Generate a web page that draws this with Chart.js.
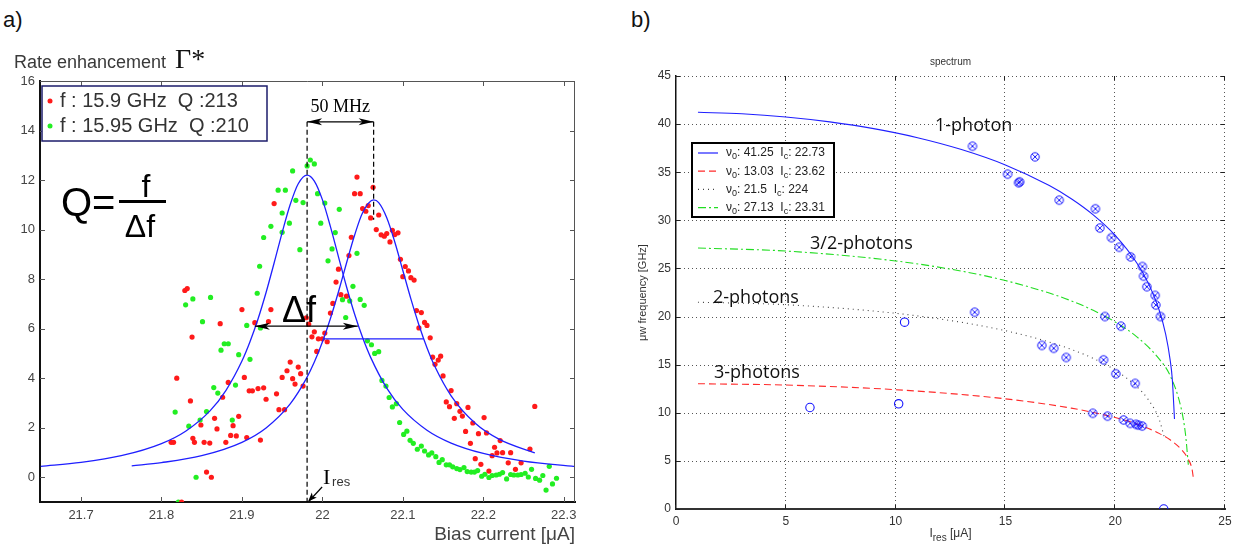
<!DOCTYPE html>
<html lang="en">
<head>
<meta charset="UTF-8">
<title>Rate enhancement and spectrum</title>
<script src="https://cdn.jsdelivr.net/npm/chart.js"></script>
<style>
    body { margin: 0; background: #fff; width: 1244px; height: 546px; overflow: hidden; position: relative; }
    #chartA { position: absolute; left: 0; top: 0; }
    #chartB { position: absolute; left: 620px; top: 0; }
    .tag { position: absolute; top: 7px; font: 22px "Liberation Sans", Arial, sans-serif; color: #111; }
</style>
</head>
<body>
<div class="tag" style="left:3px">a)</div>
<div class="tag" style="left:631px">b)</div>
<canvas id="chartA" width="600" height="546"></canvas>
<canvas id="chartB" width="624" height="546"></canvas>

<script>
// ---------- panel a : rate enhancement vs bias current ----------
const xTicksA = [21.7, 21.8, 21.9, 22.0, 22.1, 22.2, 22.3];
const yTicksA = [0, 2, 4, 6, 8, 10, 12, 14, 16];
const legendA = ['f : 15.9 GHz  Q :213', 'f : 15.95 GHz  Q :210'];

const redX = [21.812, 21.815, 21.819, 21.825, 21.829, 21.832, 21.836, 21.838, 21.839, 21.841,
              21.849, 21.853, 21.856, 21.860, 21.862, 21.866, 21.869, 21.873, 21.876, 21.880,
              21.883, 21.886, 21.889, 21.893, 21.896, 21.900, 21.903, 21.906, 21.909, 21.913,
              21.916, 21.920, 21.923, 21.927, 21.930, 21.933, 21.936, 21.940, 21.943, 21.946,
              21.950, 21.953, 21.956, 21.960, 21.963, 21.966, 21.970, 21.973, 21.976, 21.980,
              21.983, 21.987, 21.990, 21.993, 21.995, 22.000, 22.003, 22.006, 22.010, 22.013,
              22.017, 22.020, 22.023, 22.030, 22.033, 22.036, 22.040, 22.043, 22.047, 22.050,
              22.054, 22.057, 22.060, 22.063, 22.067, 22.070, 22.073, 22.077, 22.080, 22.084,
              22.087, 22.090, 22.094, 22.097, 22.100, 22.103, 22.107, 22.110, 22.114, 22.117,
              22.120, 22.123, 22.127, 22.130, 22.134, 22.137, 22.140, 22.144, 22.147, 22.150,
              22.154, 22.158, 22.160, 22.164, 22.167, 22.171, 22.174, 22.178, 22.181, 22.184,
              22.187, 22.190, 22.194, 22.197, 22.201, 22.204, 22.207, 22.211, 22.214, 22.217,
              22.221, 22.224, 22.231, 22.234, 22.240, 22.247, 22.258, 22.264];
const redY = [1.41, 1.41, 4.0, -1.0, 7.54, 7.62, 3.08, 5.66, 1.57, 1.41,
              2.11, 1.41, 0.21, 1.38, 0.0, 2.38, 1.95, 6.2, 3.23, 1.41,
              3.83, 1.69, 2.08, 1.67, 2.46, 6.77, 4.03, 1.60, 3.49, 3.49,
              6.24, 3.58, 1.50, 3.61, 3.15, 6.28, 6.77, 11.05, 3.37, 2.73,
              4.03, 2.73, 4.30, 4.65, 3.98, 3.76, 4.45, 4.18, 3.68, 6.44,
              6.18, 5.67, 5.87, 5.08, 5.59, 5.59, 5.82, 5.47, 6.63, 7.02,
              7.88, 8.4, 7.37, 7.31, 8.95, 9.69, 11.45, 12.12, 11.45, 10.85,
              10.74, 10.97, 10.47, 11.71, 10.0, 10.59, 9.79, 9.73, 9.84, 9.5,
              9.97, 9.8, 9.87, 8.8, 8.1, 8.51, 8.33, 8.06, 7.96, 6.73,
              6.03, 6.65, 6.25, 6.13, 5.63, 4.85, 4.56, 4.73, 4.89, 4.09,
              3.04, 2.85, 3.5, 2.38, 2.97, 2.66, 2.47, 1.85, 2.82, 1.37,
              2.19, 0.75, 1.76, 0.52, 2.41, 1.79, 0.25, 0.87, 1.21, 0.98,
              1.48, 0.99, 0.58, 0.99, 0.32, 0.58, 1.14, 2.86];

const greenX = [21.817, 21.821, 21.830, 21.834, 21.839, 21.843, 21.848, 21.851, 21.856, 21.861,
                21.865, 21.870, 21.874, 21.878, 21.883, 21.888, 21.892, 21.896, 21.906, 21.910,
                21.919, 21.922, 21.923, 21.927, 21.936, 21.945, 21.950, 21.950, 21.954, 21.959,
                21.963, 21.967, 21.972, 21.976, 21.981, 21.985, 21.990, 21.994, 21.998, 22.003,
                22.007, 22.012, 22.016, 22.021, 22.025, 22.029, 22.034, 22.038, 22.043, 22.047,
                22.052, 22.056, 22.061, 22.065, 22.070, 22.074, 22.079, 22.083, 22.087, 22.092,
                22.096, 22.101, 22.105, 22.109, 22.113, 22.118, 22.123, 22.127, 22.132, 22.136,
                22.141, 22.145, 22.149, 22.154, 22.158, 22.162, 22.167, 22.171, 22.176, 22.180,
                22.185, 22.189, 22.193, 22.198, 22.202, 22.207, 22.211, 22.216, 22.220, 22.224,
                22.229, 22.234, 22.238, 22.243, 22.247, 22.252, 22.256, 22.260, 22.265, 22.270,
                22.274, 22.278, 22.282, 22.286, 22.291];
const greenY = [2.63, -1.0, 6.96, 2.06, 7.2, 0.0, 2.31, 6.28, 2.65, 7.26,
                3.62, 3.4, 5.13, 5.39, 5.39, 2.31, 3.72, 4.95, 6.13, 4.76,
                7.43, 8.52, 6.03, 9.68, 10.13, 11.59, 9.89, 10.67, 11.59, 10.26,
                12.37, 11.18, 9.19, 11.09, 12.57, 12.81, 12.65, 11.45, 10.26, 11.07,
                8.74, 9.22, 9.88, 10.82, 7.17, 6.45, 7.12, 7.71, 9.04, 7.18,
                6.94, 5.51, 5.35, 5.0, 5.07, 3.91, 3.68, 3.22, 2.84, 2.97,
                2.21, 1.73, 1.86, 1.49, 1.37, 1.13, 1.26, 1.06, 0.9, 0.98,
                0.83, 0.6, 0.71, 0.5, 0.5, 0.42, 0.35, 0.31, 0.39, 0.23,
                0.21, 0.21, 0.27, 0.04, 0.12, -0.01, 0.07, 0.09, 0.12, 0.19,
                -0.07, 0.11, 0.09, 0.09, 0.11, 0.16, 0.01, 0.32, -0.05, -0.12,
                0.07, -0.52, 0.44, -0.27, -0.04];

// fitted resonance curves
const fitGreenX = [21.65, 21.70, 21.75, 21.80, 21.83, 21.86, 21.88, 21.90, 21.91, 21.92, 21.93,
                   21.94, 21.95, 21.96, 21.97, 21.981, 21.99, 22.00, 22.01, 22.02, 22.03, 22.04,
                   22.05, 22.06, 22.08, 22.10, 22.13, 22.16, 22.20, 22.25, 22.314];
const fitGreenY = [0.44, 0.60, 0.87, 1.36, 1.86, 2.67, 3.50, 4.69, 5.47, 6.39, 7.46,
                   8.65, 9.88, 11.01, 11.85, 12.2, 11.96, 11.21, 10.12, 8.90, 7.69, 6.59,
                   5.64, 4.84, 3.60, 2.74, 1.90, 1.38, 0.96, 0.65, 0.43];
const fitRedX = [21.763, 21.80, 21.85, 21.90, 21.93, 21.96, 21.98, 21.99, 22.00, 22.01, 22.02,
                 22.03, 22.04, 22.05, 22.0637, 22.07, 22.08, 22.09, 22.10, 22.11, 22.12, 22.13,
                 22.14, 22.16, 22.19, 22.22, 22.264];
const fitRedY = [0.46, 0.59, 0.87, 1.41, 1.99, 2.96, 3.98, 4.65, 5.46, 6.41, 7.49,
                 8.65, 9.77, 10.68, 11.2, 11.09, 10.48, 9.5, 8.35, 7.2, 6.15, 5.23,
                 4.46, 3.29, 2.18, 1.53, 0.98];

// ---------- panel b : spectrum ----------
const xTicksB = [0, 5, 10, 15, 20, 25];
const yTicksB = [0, 5, 10, 15, 20, 25, 30, 35, 40, 45];
const legendB = [['41.25', '22.73'], ['13.03', '23.62'], ['21.5', '224'], ['27.13', '23.31']];
const curveNames = ['1-photon', '3-photons', '2-photons', '3/2-photons'];

const fit1X = [1, 3, 5, 7, 9, 11, 13, 15, 17, 18, 19, 20, 21, 21.5, 22, 22.3, 22.5, 22.6, 22.7];
const fit1Y = [41.23, 41.07, 40.74, 40.23, 39.53, 38.59, 37.36, 35.76, 33.61, 32.24, 30.56, 28.43, 25.52, 23.5, 20.68, 18.15, 15.53, 13.48, 9.35];
const fit3X = [1, 5, 10, 15, 18, 20, 21, 22, 22.5, 23, 23.3, 23.5, 23.56];
const fit3Y = [13.02, 12.88, 12.40, 11.45, 10.48, 9.50, 8.82, 7.86, 7.19, 6.22, 5.28, 4.13, 3.2];
const fit2X = [1, 5, 10, 13, 15, 17, 18, 19, 20, 21, 21.5, 22, 22.24];
const fit2Y = [21.49, 21.23, 20.34, 19.40, 18.53, 17.35, 16.59, 15.65, 14.43, 12.68, 11.39, 9.33, 7.43];
const fit32X = [1, 5, 10, 13, 15, 17, 18, 19, 20, 21, 22, 22.5, 23, 23.2, 23.33];
const fit32Y = [27.12, 26.81, 25.78, 24.72, 23.74, 22.44, 21.63, 20.65, 19.44, 17.87, 15.60, 13.87, 10.5, 7.8, 4.6];

const crossX = [13.5, 16.35, 15.1, 15.6, 15.65, 17.45, 19.1, 19.3, 19.83, 20.18, 20.7, 21.24, 21.29, 21.44, 21.82,
                21.85, 22.06, 13.6, 19.53, 20.26, 16.66, 17.2, 17.77, 19.47, 20.03, 20.91,
                18.98, 19.65, 20.38, 20.68, 20.95, 21.06, 21.23];
const crossY = [37.7, 36.6, 34.8, 33.9, 34.0, 32.1, 31.2, 29.2, 28.2, 27.2, 26.2, 25.2, 24.2, 23.1, 22.2,
                21.2, 20.0, 20.45, 20.0, 19.0, 17.0, 16.7, 15.75, 15.5, 14.05, 13.05,
                9.95, 9.65, 9.25, 8.9, 8.8, 8.72, 8.62];
const openX = [6.1, 10.14, 10.41, 22.21];
const openY = [10.55, 10.93, 19.42, 0];

const pts = (xs, ys) => xs.map((v, i) => ({ x: v, y: ys[i] }));

const RED = '#ff1a1a', GREEN = '#22ee22', BLUE = '#1f1fff';
const SANS = '"Liberation Sans", Arial, sans-serif';
const SERIF = '"Liberation Serif", "Times New Roman", serif';

function arrowHead(ctx, x1, y1, x2, y2, len, half) {
    const a = Math.atan2(y2 - y1, x2 - x1), c = Math.cos(a), s = Math.sin(a);
    ctx.beginPath();
    ctx.moveTo(x2, y2);
    ctx.lineTo(x2 - len * c + half * s, y2 - len * s - half * c);
    ctx.lineTo(x2 - len * 0.75 * c, y2 - len * 0.75 * s);
    ctx.lineTo(x2 - len * c - half * s, y2 - len * s + half * c);
    ctx.closePath();
    ctx.fill();
}

// annotations of panel a (in data units where they belong to the plot)
const peakGreen = 21.981, peakRed = 22.0637, markTop = 14.35, redDashEnd = 10.4;
const dfGreen = [21.916, 22.044, 6.1];
const dfRed = [22.0016, 22.1258, 5.59];

const annotA = {
    id: 'annotA',
    afterDraw(chart) {
        const { ctx, chartArea: a, scales: { x, y } } = chart;
        ctx.save();
        // top / right frame with inward ticks
        ctx.strokeStyle = '#555';
        ctx.lineWidth = 1;
        ctx.beginPath();
        ctx.moveTo(a.left, a.top + 0.5);
        ctx.lineTo(a.right - 0.5, a.top + 0.5);
        ctx.lineTo(a.right - 0.5, a.bottom);
        xTicksA.forEach(v => {
            const px = Math.round(x.getPixelForValue(v)) + 0.5;
            ctx.moveTo(px, a.top); ctx.lineTo(px, a.top + 5);
            ctx.moveTo(px, a.bottom); ctx.lineTo(px, a.bottom - 5);
        });
        yTicksA.forEach(v => {
            const py = Math.round(y.getPixelForValue(v)) + 0.5;
            ctx.moveTo(a.left, py); ctx.lineTo(a.left + 5, py);
            ctx.moveTo(a.right, py); ctx.lineTo(a.right - 5, py);
        });
        ctx.stroke();

        // resonance markers
        const gx = x.getPixelForValue(peakGreen), rx = x.getPixelForValue(peakRed);
        const ty = y.getPixelForValue(markTop);
        ctx.strokeStyle = '#000';
        ctx.fillStyle = '#000';
        ctx.lineWidth = 1.2;
        ctx.setLineDash([5, 3]);
        ctx.beginPath();
        ctx.moveTo(gx, ty); ctx.lineTo(gx, a.bottom);
        ctx.moveTo(rx, ty); ctx.lineTo(rx, y.getPixelForValue(redDashEnd));
        ctx.stroke();
        ctx.setLineDash([]);
        ctx.beginPath();
        ctx.moveTo(gx, ty); ctx.lineTo(rx, ty);
        ctx.stroke();
        arrowHead(ctx, rx, ty, gx, ty, 15, 3.5);
        arrowHead(ctx, gx, ty, rx, ty, 15, 3.5);
        ctx.font = '18px ' + SERIF;
        ctx.textAlign = 'center';
        ctx.textBaseline = 'alphabetic';
        ctx.fillText('50 MHz', (gx + rx) / 2, 112);

        // delta f arrow (green resonance width)
        const dy = y.getPixelForValue(dfGreen[2]);
        const d1 = x.getPixelForValue(dfGreen[0]), d2 = x.getPixelForValue(dfGreen[1]);
        ctx.lineWidth = 1.3;
        ctx.beginPath();
        ctx.moveTo(d1, dy); ctx.lineTo(d2, dy);
        ctx.stroke();
        arrowHead(ctx, d2, dy, d1, dy, 15, 3.5);
        arrowHead(ctx, d1, dy, d2, dy, 15, 3.5);
        ctx.font = '36px ' + SANS;
        ctx.textAlign = 'left';
        ctx.fillText('\u0394f', 282, 322);

        // half width line of the red resonance
        const hy = y.getPixelForValue(dfRed[2]);
        ctx.strokeStyle = BLUE;
        ctx.beginPath();
        ctx.moveTo(x.getPixelForValue(dfRed[0]), hy);
        ctx.lineTo(x.getPixelForValue(dfRed[1]), hy);
        ctx.stroke();

        // I_res pointer
        ctx.strokeStyle = '#000';
        ctx.lineWidth = 1.2;
        ctx.beginPath();
        ctx.moveTo(gx + 15, a.bottom - 15);
        ctx.lineTo(gx + 2, a.bottom - 1);
        ctx.stroke();
        arrowHead(ctx, gx + 15, a.bottom - 15, gx + 1, a.bottom - 0.5, 9, 3.5);
        ctx.font = '22px ' + SERIF;
        ctx.fillText('I', gx + 16, 484);
        ctx.font = '13px ' + SANS;
        ctx.fillStyle = '#333';
        ctx.fillText('res', gx + 25, 486);

        // Q = f / delta f
        ctx.fillStyle = '#000';
        ctx.font = '40px ' + SANS;
        ctx.fillText('Q=', 61, 216);
        ctx.fillRect(119, 200, 47, 3);
        ctx.font = '32px ' + SANS;
        ctx.textAlign = 'center';
        ctx.fillText('f', 146, 197);
        ctx.fillText('\u0394f', 140, 237);

        // y label
        ctx.textAlign = 'left';
        ctx.fillStyle = '#3a3a3a';
        ctx.font = '18px ' + SANS;
        ctx.fillText('Rate enhancement', 14, 68);
        ctx.fillStyle = '#111';
        ctx.font = '28px ' + SERIF;
        ctx.fillText('\u0393*', 175, 68);

        // legend
        ctx.fillStyle = '#fff';
        ctx.fillRect(42, 86, 225, 55);
        ctx.strokeStyle = '#1d1d6b';
        ctx.lineWidth = 1.5;
        ctx.strokeRect(42, 86, 225, 55);
        [RED, GREEN].forEach((c, i) => {
            const ly = 101 + i * 25;
            ctx.fillStyle = c;
            ctx.beginPath(); ctx.arc(50, ly, 2.5, 0, Math.PI * 2); ctx.fill();
            ctx.fillStyle = '#333';
            ctx.font = '20px ' + SANS;
            ctx.textBaseline = 'middle';
            ctx.fillText(legendA[i], 60, ly);
        });
        ctx.restore();
    }
};

new Chart(document.getElementById('chartA'), {
    type: 'scatter',
    data: {
        datasets: [
            { type: 'line', data: pts(fitGreenX, fitGreenY), borderColor: BLUE, borderWidth: 1.3,
              pointRadius: 0, fill: false, cubicInterpolationMode: 'monotone' },
            { type: 'line', data: pts(fitRedX, fitRedY), borderColor: BLUE, borderWidth: 1.3,
              pointRadius: 0, fill: false, cubicInterpolationMode: 'monotone' },
            { label: legendA[0], data: pts(redX, redY), backgroundColor: RED, borderWidth: 0, pointRadius: 2.6 },
            { label: legendA[1], data: pts(greenX, greenY), backgroundColor: GREEN, borderWidth: 0, pointRadius: 2.6 }
        ]
    },
    options: {
        responsive: false,
        animation: false,
        layout: { padding: { left: 0, top: 81, right: 25, bottom: 0 } },
        plugins: { legend: { display: false }, tooltip: { enabled: false } },
        scales: {
            x: {
                type: 'linear', min: 21.649, max: 22.314,
                afterBuildTicks: s => { s.ticks = xTicksA.map(v => ({ value: v })); },
                afterFit: s => { s.height = 44; },
                grid: { display: false, drawTicks: false },
                border: { color: '#111', width: 2 },
                ticks: { callback: v => String(v), color: '#444', font: { family: SANS, size: 13 }, padding: 6, maxRotation: 0, autoSkip: false },
                title: { display: true, text: 'Bias current [\u03bcA]', align: 'end', color: '#444',
                         font: { family: SANS, size: 19 }, padding: 0 }
            },
            y: {
                min: -1, max: 16,
                afterBuildTicks: s => { s.ticks = yTicksA.map(v => ({ value: v })); },
                afterFit: s => { s.width = 40; },
                grid: { display: false, drawTicks: false },
                border: { color: '#111', width: 2 },
                ticks: { color: '#444', font: { family: SANS, size: 13 }, padding: 5 }
            }
        }
    },
    plugins: [annotA]
});

// ---------- panel b ----------
function crossCircle(r, color) {
    const c = document.createElement('canvas');
    const s = Math.ceil(r * 2 + 3);
    c.width = c.height = s;
    const g = c.getContext('2d');
    g.strokeStyle = color;
    g.lineWidth = 1;
    g.beginPath(); g.arc(s / 2, s / 2, r, 0, Math.PI * 2); g.stroke();
    const d = r * 0.68;
    g.beginPath();
    g.moveTo(s / 2 - d, s / 2 - d); g.lineTo(s / 2 + d, s / 2 + d);
    g.moveTo(s / 2 + d, s / 2 - d); g.lineTo(s / 2 - d, s / 2 + d);
    g.stroke();
    return c;
}

const fitStyles = [
    { color: '#2020ff', dash: [] },
    { color: '#ff2a2a', dash: [7, 4] },
    { color: '#444', dash: [1, 4] },
    { color: '#22dd22', dash: [8, 3, 2, 3] }
];
const fitData = [pts(fit1X, fit1Y), pts(fit3X, fit3Y), pts(fit2X, fit2Y), pts(fit32X, fit32Y)];
const labelPos = [[315, 131], [94, 378], [93, 303], [190, 249]];

function subText(ctx, parts, x, y, big, small) {
    parts.forEach(([t, sub]) => {
        ctx.font = (sub ? small : big) + 'px ' + SANS;
        ctx.fillText(t, x, sub ? y + 4 : y);
        x += ctx.measureText(t).width;
    });
    return x;
}
function subWidth(ctx, parts, big, small) {
    return parts.reduce((w, [t, sub]) => {
        ctx.font = (sub ? small : big) + 'px ' + SANS;
        return w + ctx.measureText(t).width;
    }, 0);
}

const annotB = {
    id: 'annotB',
    beforeDatasetsDraw(chart) {
        // dotted grid
        const { ctx, chartArea: a, scales: { x, y } } = chart;
        ctx.save();
        ctx.strokeStyle = '#555';
        ctx.lineWidth = 1;
        ctx.setLineDash([1, 3]);
        ctx.beginPath();
        xTicksB.slice(1).forEach(v => {
            const px = Math.round(x.getPixelForValue(v)) - 0.5;
            ctx.moveTo(px, a.top); ctx.lineTo(px, a.bottom);
        });
        yTicksB.slice(1).forEach(v => {
            const py = Math.round(y.getPixelForValue(v)) + 0.5;
            ctx.moveTo(a.left, py); ctx.lineTo(a.right, py);
        });
        ctx.stroke();
        ctx.restore();
    },
    afterDraw(chart) {
        const { ctx, chartArea: a, scales: { x, y } } = chart;
        ctx.save();
        // small inward ticks
        ctx.strokeStyle = '#222';
        ctx.lineWidth = 1;
        ctx.beginPath();
        xTicksB.forEach(v => {
            const px = Math.round(x.getPixelForValue(v)) - 0.5;
            ctx.moveTo(px, a.bottom); ctx.lineTo(px, a.bottom - 4);
            ctx.moveTo(px, a.top); ctx.lineTo(px, a.top + 4);
        });
        yTicksB.forEach(v => {
            const py = Math.round(y.getPixelForValue(v)) + 0.5;
            ctx.moveTo(a.left, py); ctx.lineTo(a.left + 4, py);
            ctx.moveTo(a.right, py); ctx.lineTo(a.right - 4, py);
        });
        ctx.stroke();

        // titles
        ctx.fillStyle = '#333';
        ctx.textBaseline = 'alphabetic';
        ctx.textAlign = 'center';
        ctx.font = '10px ' + SANS;
        ctx.fillText('spectrum', (a.left + a.right) / 2, 65);
        ctx.save();
        ctx.translate(26, (a.top + a.bottom) / 2);
        ctx.rotate(-Math.PI / 2);
        ctx.font = '11px ' + SANS;
        ctx.fillText('\u03bcw frequency [GHz]', 0, 0);
        ctx.restore();
        ctx.textAlign = 'left';
        const xt = [['I', false], ['res', true], [' [\u03bcA]', false]];
        const w = subWidth(ctx, xt, 12, 10);
        subText(ctx, xt, (a.left + a.right) / 2 - w / 2, 537, 12, 10);

        // curve names
        ctx.fillStyle = '#111';
        ctx.font = '18px "Open Sans", ' + SANS;
        curveNames.forEach((t, i) => ctx.fillText(t, labelPos[i][0], labelPos[i][1]));

        // legend
        const lx = 72, ly = 143, lw = 142, lh = 74;
        ctx.fillStyle = '#fff';
        ctx.fillRect(lx, ly, lw, lh);
        ctx.strokeStyle = '#000';
        ctx.lineWidth = 2;
        ctx.strokeRect(lx, ly, lw, lh);
        legendB.forEach((e, i) => {
            const ry = 153 + i * 18.2;
            ctx.strokeStyle = fitStyles[i].color;
            ctx.lineWidth = 1.2;
            ctx.setLineDash(fitStyles[i].dash);
            ctx.beginPath(); ctx.moveTo(78, ry); ctx.lineTo(98, ry); ctx.stroke();
            ctx.setLineDash([]);
            ctx.fillStyle = '#222';
            ctx.textBaseline = 'middle';
            subText(ctx, [['\u03bd', false], ['0', true], [': ' + e[0] + '  I', false], ['c', true], [': ' + e[1], false]],
                    106, ry, 12, 9);
        });
        ctx.restore();
    }
};

new Chart(document.getElementById('chartB'), {
    type: 'scatter',
    data: {
        datasets: [
            { data: pts(crossX, crossY), pointStyle: crossCircle(4.2, '#1515ff'), pointRadius: 4.5 },
            { data: pts(openX, openY), pointStyle: 'circle', pointRadius: 4.2, borderColor: '#1515ff',
              backgroundColor: 'rgba(0,0,0,0)', borderWidth: 1.1 },
            ...fitData.map((d, i) => ({
                type: 'line', data: d, borderColor: fitStyles[i].color, borderDash: fitStyles[i].dash,
                borderWidth: 1.1, pointRadius: 0, fill: false, cubicInterpolationMode: 'monotone'
            }))
        ]
    },
    options: {
        responsive: false,
        animation: false,
        layout: { padding: { left: 0, top: 76, right: 19, bottom: 0 } },
        plugins: { legend: { display: false }, tooltip: { enabled: false } },
        scales: {
            x: {
                type: 'linear', min: 0, max: 25,
                afterBuildTicks: s => { s.ticks = xTicksB.map(v => ({ value: v })); },
                afterFit: s => { s.height = 37; },
                grid: { display: false, drawTicks: false },
                border: { color: '#333', width: 2 },
                ticks: { color: '#333', font: { family: SANS, size: 12 }, padding: 5, maxRotation: 0, autoSkip: false }
            },
            y: {
                min: 0, max: 45,
                afterBuildTicks: s => { s.ticks = yTicksB.map(v => ({ value: v })); },
                afterFit: s => { s.width = 56; },
                grid: { display: false, drawTicks: false },
                border: { color: '#111', width: 1.5 },
                ticks: { color: '#333', font: { family: SANS, size: 12 }, padding: 5 }
            }
        }
    },
    plugins: [annotB]
});
</script>
</body>
</html>
